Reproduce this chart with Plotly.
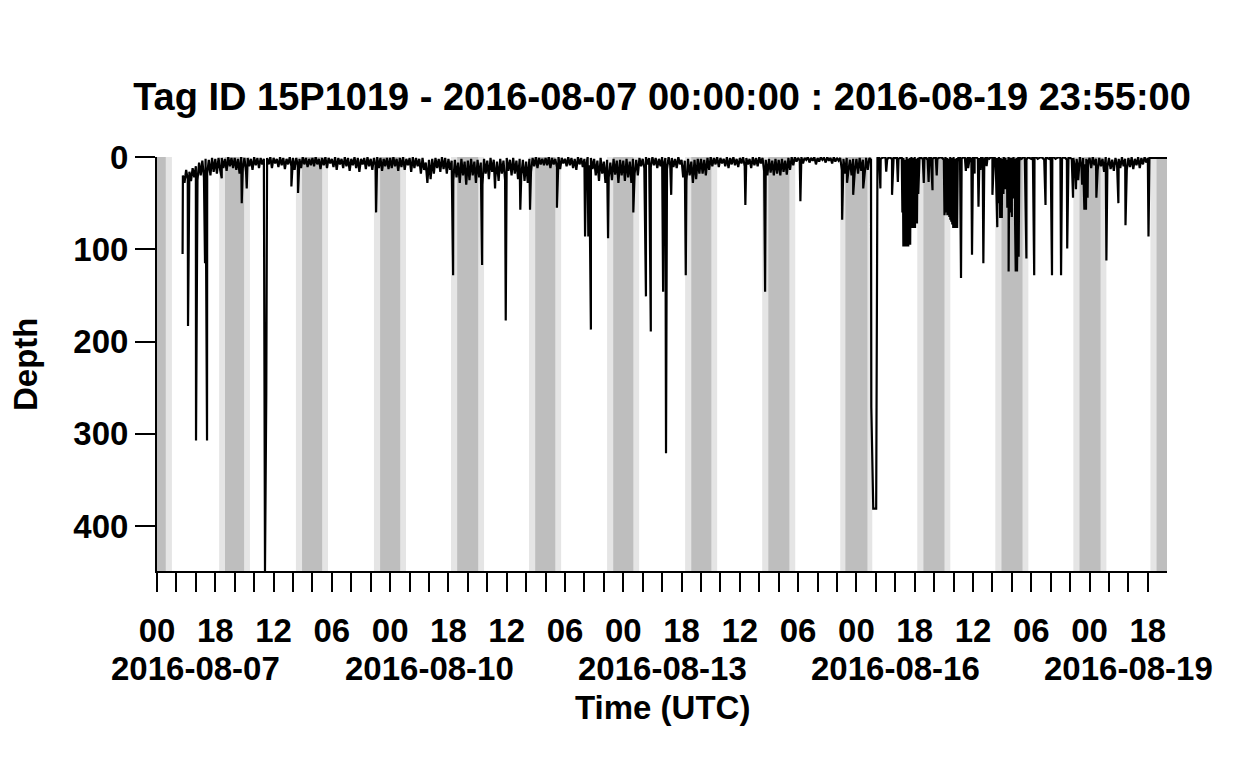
import pandas as pd
import plotly.graph_objects as go

TAG_ID = "15P1019"
START = "2016-08-07 00:00:00"
END = "2016-08-19 23:55:00"

# half-hourly depth (m) from START, one list per day; None = no record
depth_aug07 = [None] * 16 + [
    20, 28, 14, 24, 16, 26, 12, 22, 10, 25, 6, 20, 4, 22, 2, 18, 3, 20, 1, 16, 2, 18, 1, 14,
    1, 12, 2, 15, 0, 10, 1, 12]
depth_aug08 = [
    1, 14, 2, 18, 0, 12, 1, 16, 1, 10, 2, 14, 0, 9, 1, 12, 1, 8, 2, None,
    1, 8, 0, 12, 1, 7, 2, 11, 0, 9, 1, 13, 2, 8, 0, 10, 1, 14, 1, 9, 2, 12, 0, 8, 1, 11, 2, 9]
depth_aug09 = [
    1, 10, 0, 8, 2, 13, 1, 9, 0, 12, 1, 7, 2, 11, 0, 14, 1, 8, 2, 12, 0, 10, 1, 15,
    2, 9, 0, 12, 1, 16, 2, 8, 1, 13, 0, 10, 2, 14, 1, 9, 0, 12, 1, 15, 2, 10, 1, 13]
depth_aug10 = [
    1, 12, 0, 10, 2, 15, 1, 11, 0, 14, 2, 9, 1, 16, 0, 12, 1, 10, 2, 18, 1, 14,
    6, 28, 3, 24, 2, 18, 1, 12, 2, 16, 0, 13, 1, 18, 2, 14,
    4, 25, 3, 22, 6, 28, 2, 20, 5, 30]
depth_aug11 = [
    4, 25, 2, 20, 5, 28, 3, 22, 6, 30, 2, 18, 4, 24, 1, 16, 3, 22, 5, 26,
    2, 18, 4, 25, 1, 15, 3, 20, 1, 18, 4, 24, 2, 20, 3, 26, 5, 28, 2, 16,
    1, 10, 0, 12, 1, 8, 2, 9]
depth_aug12 = [
    1, 9, 0, 12, 1, 8, 2, 11, 0, 13, 1, 7, 2, 10, 0, 9, 1, 12, 2, 14, 0, 8, 1, 11, 2, 10, 0, 9, 1, 13,
    2, 20, 4, 26, 1, 18, 5, 28, 3, 22, 6, 25, 2, 19, 4, 28, 3, 20]
depth_aug13 = [
    4, 26, 2, 22, 5, 28, 2, 18, 3, 20,
    1, 10, 2, 12, 0, 8, 1, 11, 0, 9, 1, 12, 2, 10, 0, 8, 1, 13, 0, 9, 1, 11, 2, 12, 0, 8,
    3, 22, 4, 26, 2, 20, 5, 28, 3, 24, 2, 18]
depth_aug14 = [
    2, 18, 3, 20, 1, 14, 0, 10,
    1, 8, 0, 11, 1, 7, 2, 10, 0, 12, 1, 8, 0, 9, 2, 11, 1, 7, 0, 10, 1, 8, 2, 12, 0, 9, 1, 10, 0, 7,
    1, 15, 3, 20, 2, 17, 4, 20, 2, 18]
depth_aug15 = [
    3, 20, 2, 16, 4, 19, 1, 14, 0, 9,
    0, 5, 1, 4, 0, 7, 1, 3, 0, 6, 1, 4, 0, 8, 1, 5, 0, 3, 1, 6, 0, 4, 1, 7, 0, 5, 1, 4,
    1, 14, 2, 18, 1, 16, 3, 20, 2, 15]
depth_aug16 = [
    2, 18, 1, 15, 3, 20, 1, 14, 1, 3, None, None, None, 1,
    0, 2, 1, 0, 1, 3, 0, 1, 2, 0, 1, 0, 2, 1, 0, 1, 3, 0, 2, 1, 0, 1, 0, 2, 1, 0, 1, 2, 0, 1, 3, 0, 1, 2]
depth_aug17 = [
    1, 0, 2, 1, 0, 1, 3, 0, 1, 2, 0, 1, 0, 2, 1, 0, 1, 2, 0, 1, 3, 0, 1, 2,
    0, 1, 0, 2, 1, 0, 1, 3, 0, 1, 2, 0, 1, 0, 2, 1, 0, 1, 2, 0, 1, 3, 0, 1]
depth_aug18 = [
    1, 0, 2, 1, 0, 1, 2, 0, 1, 3, 0, 1, 2, 0, 1, 0, 2, 1, 0, 1,
    3, 0, 1, 2, 0, 1, 0, 2, 1, 0, 1, 2, 0, 1, 3, 0, 1, 2,
    1, 12, 2, 15, 0, 10, 1, 14, 2, 9]
depth_aug19 = [
    1, 12, 0, 9, 2, 14, 1, 10, 2, 16, 0, 11, 1, 13, 3, 15, 1, 9, 2, 12,
    0, 10, 2, 14, 1, 11, 0, 13, 2, 9, 0, 12, 1, 8, 0, 6,
    1, 1, 1, 1, 1, 1, 1, 1, 1, 1, 1, 1]

# dives between the regular samples: hours after START, depth (m)
dive_hours = [
    7.9, 9.58, 12.05, 14.83, 15.45, 19.99, 26.17, 27.71, 33.35, 33.75,
    41.5, 43.56, 67.66, 91.45, 100.4, 104.4, 107.7, 112.2, 115.2, 123.5,
    132.2, 133.2, 134.0, 139.3, 147.1, 151.0, 152.5, 156.3, 157.2, 158.8,
    163.3, 181.7, 187.8, 198.7, 211.6, 213.1, 215.0, 218.1, 220.6, 221.2,
    222.1, 223.4, 225.2, 227.0, 228.8,
    230.2, 230.35, 230.5, 230.65, 230.8, 230.95, 231.1, 231.25, 231.4, 231.55,
    231.7, 231.85, 232.0, 232.15, 232.3, 232.45, 232.6, 232.75, 232.9, 233.05,
    233.2, 233.35, 233.5, 233.65, 233.8, 233.95, 234.1, 234.25, 234.4, 234.55,
    234.7, 234.85, 235.1,
    236.8, 238.3, 239.5, 240.8, 243.2,
    243.5, 243.65, 243.8, 243.95, 244.1, 244.25, 244.4, 244.55, 244.7, 244.85,
    245.0, 245.15, 245.3, 245.45, 245.6, 245.75, 245.9, 246.05, 246.2, 246.35,
    246.5, 246.65, 246.8, 246.95, 247.1, 247.3,
    248.3, 249.8, 250.5, 251.7, 252.5, 253.7, 254.3, 255.2, 256.2, 258.0,
    259.5, 259.7, 259.9, 260.1, 260.4, 260.6, 260.9, 261.1, 261.4, 261.6,
    262.0, 262.3, 262.6, 262.8, 263.0, 263.2, 263.5, 263.7, 264.0, 264.2,
    264.5, 264.7, 265.0, 265.2, 265.5, 265.6, 265.8, 266.1, 266.3,
    268.5, 270.9, 274.4, 276.4, 279.2, 281.1, 282.9, 283.8, 284.5, 285.7,
    286.0, 286.4, 286.6, 286.9, 287.1, 287.4, 287.6,
    290.1, 293.2, 296.9, 299.1, 306.2, 311.92,
]
dive_depths = [
    105, 183, 307, 115, 307, 23, 50, 34, 448.5, 257,
    32, 39, 60, 128, 117, 34, 177, 57, 57, 55,
    86, 86, 187, 88, 60, 151, 189, 146, 321, 41,
    128, 52, 146, 48, 68, 28, 41, 34, 271, 381,
    381, 34, 16, 41, 27,
    60, 5, 97, 10, 97, 8, 95, 5, 97, 10,
    90, 5, 97, 8, 85, 5, 95, 10, 77, 5,
    75, 8, 77, 5, 70, 10, 77, 5, 60, 8,
    72, 5, 40,
    28, 27, 36, 20, 63,
    45, 5, 60, 8, 63, 5, 55, 10, 65, 6,
    68, 8, 70, 5, 73, 10, 77, 6, 77, 8,
    76, 5, 77, 10, 77, 5,
    131, 15, 12, 106, 18, 54, 14, 115, 10, 41,
    76, 8, 50, 5, 66, 10, 66, 5, 40, 5,
    35, 5, 55, 10, 124, 8, 60, 10, 65, 5,
    45, 10, 70, 124, 5, 124, 60, 108, 5,
    110, 128, 52, 128, 128, 99, 44, 35, 25, 30,
    5, 57, 8, 57, 10, 44, 5,
    44, 112, 50, 74, 86, 1,
]

# civil twilight (light grey) and night (dark grey), UTC
dusk = ["2016-08-06 19:00", "2016-08-07 19:12", "2016-08-08 18:54", "2016-08-09 19:00",
        "2016-08-10 18:48", "2016-08-11 18:54", "2016-08-12 19:00", "2016-08-13 19:06",
        "2016-08-14 18:54", "2016-08-15 19:00", "2016-08-16 18:48", "2016-08-17 18:54",
        "2016-08-18 19:00", "2016-08-19 18:48"]
night_start = ["2016-08-06 20:54", "2016-08-07 21:00", "2016-08-08 20:48", "2016-08-09 20:54",
               "2016-08-10 20:42", "2016-08-11 20:48", "2016-08-12 20:54", "2016-08-13 21:00",
               "2016-08-14 20:48", "2016-08-15 20:36", "2016-08-16 20:42", "2016-08-17 20:48",
               "2016-08-18 20:54", "2016-08-19 20:42"]
night_end = ["2016-08-07 02:42", "2016-08-08 02:54", "2016-08-09 03:00", "2016-08-10 03:06",
             "2016-08-11 03:12", "2016-08-12 03:00", "2016-08-13 03:06", "2016-08-14 03:12",
             "2016-08-15 03:18", "2016-08-16 03:24", "2016-08-17 03:12", "2016-08-18 03:18",
             "2016-08-19 03:24", "2016-08-20 03:24"]
dawn = ["2016-08-07 04:36", "2016-08-08 04:42", "2016-08-09 04:48", "2016-08-10 04:54",
        "2016-08-11 05:00", "2016-08-12 04:48", "2016-08-13 04:54", "2016-08-14 05:00",
        "2016-08-15 05:06", "2016-08-16 04:54", "2016-08-17 05:00", "2016-08-18 05:06",
        "2016-08-19 05:12", "2016-08-20 05:12"]

y_ticks = [0, 100, 200, 300, 400]
max_depth = 448.5

FONT = "Liberation Sans, Arial, Helvetica, sans-serif"

# ─── Series ─────────────────────────────────────────────────────────────────

t0 = pd.Timestamp(START)
regular = (depth_aug07 + depth_aug08 + depth_aug09 + depth_aug10 + depth_aug11
           + depth_aug12 + depth_aug13 + depth_aug14 + depth_aug15 + depth_aug16
           + depth_aug17 + depth_aug18 + depth_aug19)
df_r = pd.DataFrame({
    "time": pd.date_range(START, periods=len(regular), freq="30min"),
    "depth": regular,
}).dropna()
df_d = pd.DataFrame({
    "time": t0 + pd.to_timedelta(dive_hours, unit="h"),
    "depth": dive_depths,
})
df = pd.concat([df_r, df_d]).sort_values("time")

fig = go.Figure()
fig.add_trace(go.Scatter(
    x=df["time"], y=df["depth"],
    mode="lines",
    line=dict(color="black", width=2.2, simplify=False),
    showlegend=False,
))

for a, b in zip(dusk, dawn):
    fig.add_shape(type="rect", xref="x", yref="y domain", x0=a, x1=b, y0=0, y1=1,
                  fillcolor="#e5e5e5", line_width=0, layer="below")
for a, b in zip(night_start, night_end):
    fig.add_shape(type="rect", xref="x", yref="y domain", x0=a, x1=b, y0=0, y1=1,
                  fillcolor="#bebebe", line_width=0, layer="below")

# ─── Axes ───────────────────────────────────────────────────────────────────

tick_times = pd.date_range(START, "2016-08-19 18:00", freq="6h")
tick_text = [t.strftime("%H") if i % 3 == 0 else "" for i, t in enumerate(tick_times)]
# date labels sit under the middle of their day
date_days = [t for i, t in enumerate(tick_times) if i % 3 == 0 and t.hour == 0]

tick_font = dict(family=FONT, size=33, color="black", weight="bold")

fig.update_xaxes(
    range=[START, END],
    tickvals=tick_times, ticktext=tick_text,
    ticks="outside", ticklen=19, tickwidth=2, tickcolor="black",
    ticklabelstandoff=10,
    showline=True, linewidth=2, linecolor="black",
    showgrid=False, zeroline=False, automargin=False,
    tickfont=tick_font,
)
fig.update_yaxes(
    range=[max_depth, 0],
    tickvals=y_ticks,
    ticks="outside", ticklen=20, tickwidth=2, tickcolor="black",
    ticklabelstandoff=0,
    showline=True, linewidth=2, linecolor="black",
    showgrid=False, zeroline=False, automargin=False,
    tickfont=tick_font,
)

for t in date_days:
    fig.add_annotation(x=t + pd.Timedelta(hours=12), xref="x", y=0, yref="paper",
                       yanchor="middle", yshift=-97,
                       text=t.strftime("%Y-%m-%d"), showarrow=False, font=tick_font)

fig.add_annotation(x=0.5, xref="paper", y=0, yref="paper", yanchor="middle", yshift=-136,
                   text="Time (UTC)", showarrow=False, font=tick_font)
fig.add_annotation(x=0, xref="paper", xanchor="center", xshift=-132, y=0.5, yref="paper",
                   text="Depth", textangle=-90, showarrow=False, font=tick_font)

# the page body adds an 8 px margin, so the figure is drawn 16 px smaller
fig.update_layout(
    width=1232, height=752,
    margin=dict(l=149, r=73, t=149, b=189),
    paper_bgcolor="white", plot_bgcolor="white",
    title=dict(
        text=f"Tag ID {TAG_ID} - {START} : {END}",
        x=0.5, xref="paper", xanchor="center",
        y=1 - 89 / 752, yref="container", yanchor="middle",
        font=dict(family=FONT, size=38, color="black", weight="bold"),
    ),
)

fig.write_html("out.html")
